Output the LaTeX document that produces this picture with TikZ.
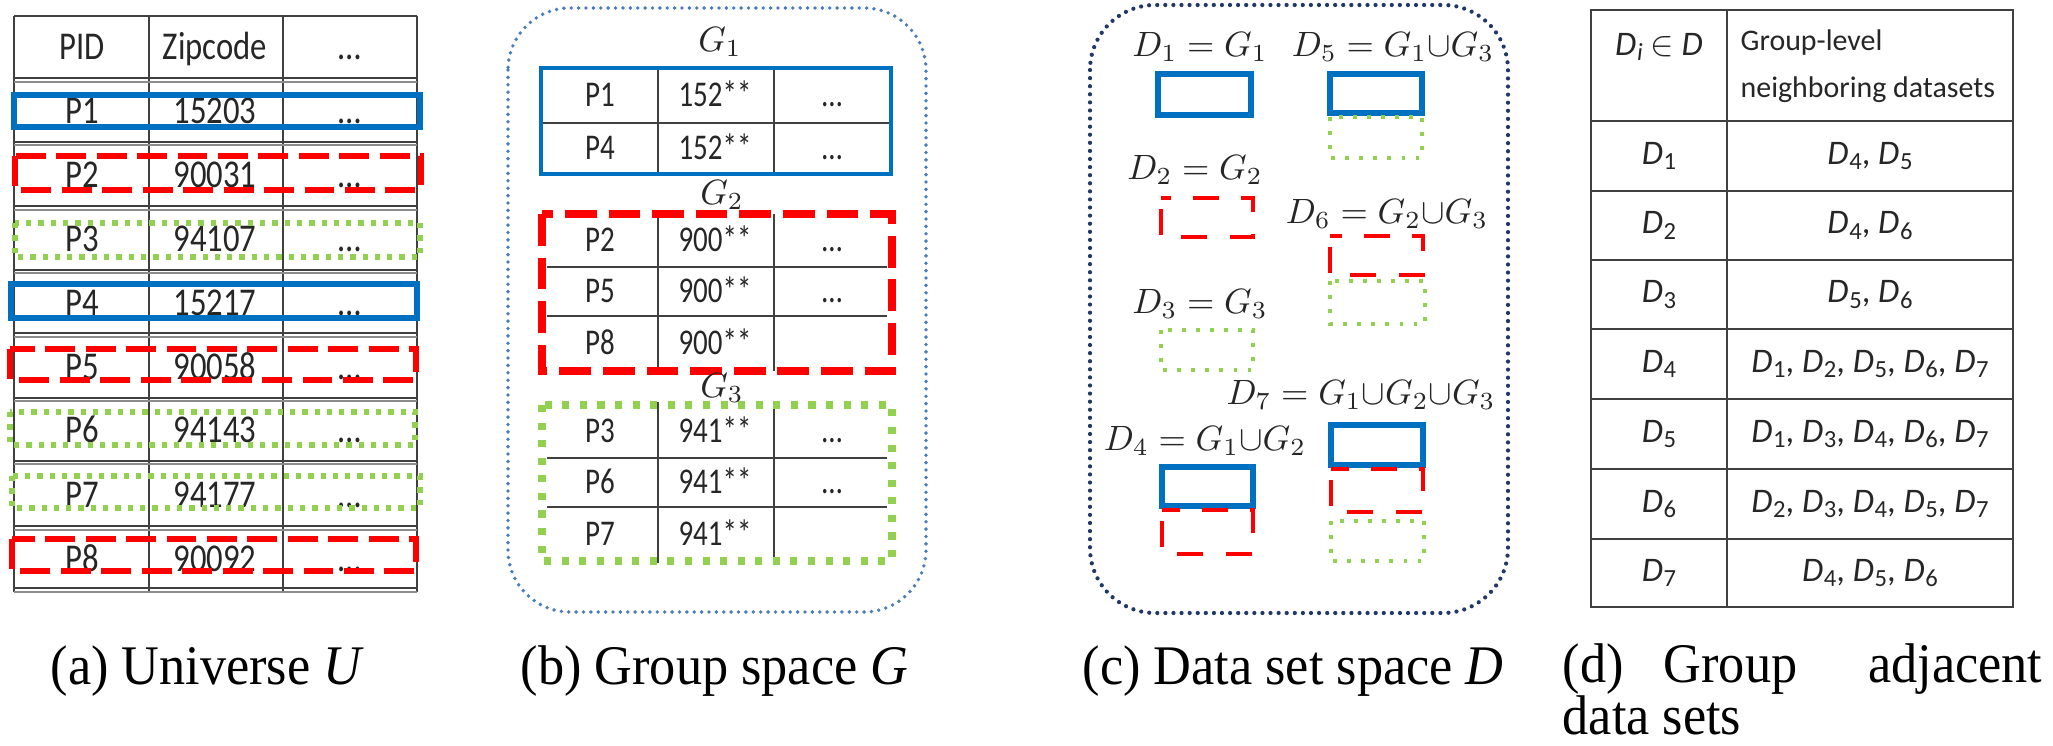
\documentclass[tikz,border=0pt]{standalone}
\usepackage{fontspec}
\setmainfont{Liberation Serif}[FakeStretch=0.935]
\newfontfamily\calA{Carlito}[FakeStretch=0.83]
\newfontfamily\calB{Carlito}[FakeStretch=0.8]
\newfontfamily\calD{Carlito}
\definecolor{cblue}{HTML}{0070C0}
\definecolor{cred}{HTML}{FF0000}
\definecolor{cgreen}{HTML}{92D050}
\definecolor{cbdot}{HTML}{4A7EBB}
\definecolor{cnavy}{HTML}{1F3868}
\newcommand\dsub[1]{\raisebox{-0.35ex}{\fontsize{7}{8}\selectfont #1}}
\newcommand\DD[1]{\textit{D}\kern0.02em\dsub{#1}}
\begin{document}
\begin{tikzpicture}[x=0.01cm,y=-0.01cm,
  tl/.style={line width=0.6pt,draw=black!75},
  tlg/.style={line width=0.5pt,draw=black!45},
  ablue/.style={draw=cblue,line width=1.6pt},
  ared/.style={draw=cred,line width=1.7pt,dash pattern=on 8.5pt off 3pt},
  agreen/.style={draw=cgreen,line width=1.5pt,dash pattern=on 1.5pt off 2pt},
  bblue/.style={draw=cblue,line width=1pt},
  bred/.style={draw=cred,line width=2pt,dash pattern=on 9pt off 3.4pt},
  bgreen/.style={draw=cgreen,line width=2pt,dash pattern=on 2pt off 3pt},
  cblu/.style={draw=cblue,line width=1.5pt},
  cre/.style={draw=cred,line width=1.4pt,dash pattern=on 7.4pt off 6.3pt,dash phase=10.5pt},
  cgr/.style={draw=cgreen,line width=1.1pt,dash pattern=on 1.1pt off 2.9pt},
  outb/.style={draw=cbdot,line width=1.1pt,line cap=round,dash pattern=on 0pt off 2.1pt,rounded corners=0.62cm},
  outc/.style={draw=cnavy,line width=1.2pt,line cap=round,dash pattern=on 0pt off 2.3pt,rounded corners=0.65cm},
  ta/.style={font=\calA\fontsize{11.2}{13}\selectfont,inner sep=0pt,anchor=base,text=black!85},
  tb/.style={font=\calB\fontsize{10.3}{12}\selectfont,inner sep=0pt,anchor=base,text=black!85},
  gl/.style={font=\fontsize{9.8}{11}\selectfont,inner sep=0pt,text=black!85},
  cl/.style={font=\fontsize{9.8}{11}\selectfont,inner sep=0pt,text=black!85},
  td/.style={font=\calD\fontsize{9.8}{11}\selectfont,inner sep=0pt,text=black!85},
  captxt/.style={font=\fontsize{15.9}{15}\selectfont,inner sep=0pt,anchor=base west}]
\fill[white] (0,0) rectangle (2053,746);
\useasboundingbox (0,0) rectangle (2053,746);

% ---------------- (a) Universe
\foreach \x in {14,149,283,417} \draw[tl] (\x,16) -- (\x,592);
\draw[tl] (14,16) -- (417,16);
\foreach \b in {80,143.5,208,271.5,335,399.5,462.5,528,590} {
  \draw[tl] (14,\b-1.8) -- (417,\b-1.8);
  \draw[tlg] (14,\b+1.8) -- (417,\b+1.8);
}
\node[ta] (aH1) at (82,60) {PID};
\node[ta] (aH2) at (215,60) {Zipcode};
\node[ta] (aH3) at (350,60) {…};
\foreach \p/\z/\y [count=\k] in {P1/15203/111.75,P2/90031/175.75,P3/94107/239.75,P4/15217/303.25,P5/90058/367.25,P6/94143/431,P7/94177/495.25,P8/90092/559.25} {
  \node[ta] (aP\k) at (82,\y+12) {\p};
  \node[ta] (aZ\k) at (215,\y+12) {\z};
  \node[ta] (aE\k) at (350,\y+12) {…};
}
\draw[ablue] (14,95) rectangle (420,127);
\draw[ared] (15,156) rectangle (421,190);
\draw[agreen] (15,223) rectangle (420,257);
\draw[ablue] (11,284) rectangle (417,318);
\draw[ared] (10,349) rectangle (416,380);
\draw[agreen] (10,412) rectangle (415,445);
\draw[agreen] (12,476) rectangle (420,508);
\draw[ared] (12,539) rectangle (416,571);

% ---------------- (b) Group space
\draw[outb] (508,8) rectangle (926,612);
% G1
\draw[tl] (541,123) -- (891,123);
\foreach \x in {658,774} \draw[tl] (\x,68) -- (\x,174);
\draw[bblue] (541,68) rectangle (891,174);
\node[gl] (g1) at (720,42) {$G_1$};
\node[tb] (bP1) at (600,107) {P1};
\node[tb] (bZ1) at (715,107) {152**};
\node[tb] (bE1) at (832,107) {…};
\node[tb] (bP4) at (600,160) {P4};
\node[tb] (bZ4) at (715,160) {152**};
\node[tb] (bE4) at (832,160) {…};
% G2
\foreach \yy in {267,316} \draw[tl] (547,\yy) -- (887,\yy);
\foreach \x in {658,774} \draw[tl] (\x,214) -- (\x,371);
\draw[bred] (542,214) rectangle (892,371);
\node[gl] (g2) at (722,195) {$G_2$};
\node[tb] (bP2) at (600,252) {P2};
\node[tb] (bZ2) at (715,252) {900**};
\node[tb] (bE2) at (832,252) {…};
\node[tb] (bP5) at (600,303) {P5};
\node[tb] (bZ5) at (715,303) {900**};
\node[tb] (bE5) at (832,303) {…};
\node[tb] (bP8) at (600,355) {P8};
\node[tb] (bZ8) at (715,355) {900**};
% G3
\foreach \yy in {458,507} \draw[tl] (547,\yy) -- (887,\yy);
\foreach \x in {658,774} \draw[tl] (\x,402) -- (\x,563);
\draw[bgreen] (542,405) rectangle (892,561);
\node[gl] (g3) at (722,388) {$G_3$};
\node[tb] (bP3) at (600,443) {P3};
\node[tb] (bZ3) at (715,443) {941**};
\node[tb] (bE3) at (832,443) {…};
\node[tb] (bP6) at (600,494) {P6};
\node[tb] (bZ6) at (715,494) {941**};
\node[tb] (bE6) at (832,494) {…};
\node[tb] (bP7) at (600,546) {P7};
\node[tb] (bZ7) at (715,546) {941**};

% ---------------- (c) Data set space
\draw[outc] (1090,5) rectangle (1508,613);
\node[cl] (d1) at (1200,47) {$D_1 = G_1$};
\node[cl] (d5) at (1393,47) {$D_5 = G_1{\cup}G_3$};
\node[cl] (d2) at (1195,170) {$D_2 = G_2$};
\node[cl] (d6) at (1387,214) {$D_6 = G_2{\cup}G_3$};
\node[cl] (d3) at (1200,304) {$D_3 = G_3$};
\node[cl] (d7) at (1361,395) {$D_7 = G_1{\cup}G_2{\cup}G_3$};
\node[cl] (d4) at (1205,441) {$D_4 = G_1{\cup}G_2$};
\draw[cblu] (1158,74) rectangle (1251,115);
\draw[cblu] (1330,74) rectangle (1422,113);
\draw[cgr] (1330,117) rectangle (1422,158);
\draw[cre] (1161,198) rectangle (1253,237);
\draw[cre] (1330,236) rectangle (1423,275);
\draw[cgr] (1330,281) rectangle (1425,324);
\draw[cgr] (1161,330) rectangle (1253,370);
\draw[cblu] (1331,425) rectangle (1423,465);
\draw[cre] (1331,469) rectangle (1423,512);
\draw[cgr] (1331,521) rectangle (1424,561);
\draw[cblu] (1162,467) rectangle (1253,506);
\draw[cre] (1162,510) rectangle (1253,554);

% ---------------- (d) Adjacent data sets
\draw[tl] (1591,10) rectangle (2013,607);
\draw[tl] (1727,10) -- (1727,607);
\foreach \yy in {121,191,260,329,399,469,539} \draw[tl] (1591,\yy) -- (2013,\yy);
\node[td] (dh1) at (1659,47) {\DD{\textit{i}} $\in$ \textit{D}};
\node[td,anchor=west,align=left,font=\calD\fontsize{8.5}{13.4}\selectfont] (dh2) at (1740,66) {Group-level\\neighboring datasets};
\foreach \n/\r/\y in {1/{\DD4, \DD5}/156,2/{\DD4, \DD6}/225.5,3/{\DD5, \DD6}/294.5,4/{\DD1, \DD2, \DD5, \DD6, \DD7}/364,5/{\DD1, \DD3, \DD4, \DD6, \DD7}/434,6/{\DD2, \DD3, \DD4, \DD5, \DD7}/504,7/{\DD4, \DD5, \DD6}/573} {
  \node[td] (dl\n) at (1659,\y) {\DD{\n}};
  \node[td] (dr\n) at (1870,\y) {\r};
}

% ---------------- captions
\node[captxt] (capa) at (50,685) {(a) Universe \textit{U}};
\node[captxt] (capb) at (520,685) {(b) Group space \textit{G}};
\node[captxt] (capc) at (1082,685) {(c) Data set space \textit{D}};
\node[captxt] (capd1) at (1562,683) {(d)};
\node[captxt] (capd2) at (1663,683) {Group};
\node[captxt,anchor=base east] (capd3) at (2043,683) {adjacent};
\node[captxt] (capd4) at (1562,735) {data sets};
\end{tikzpicture}
\end{document}
